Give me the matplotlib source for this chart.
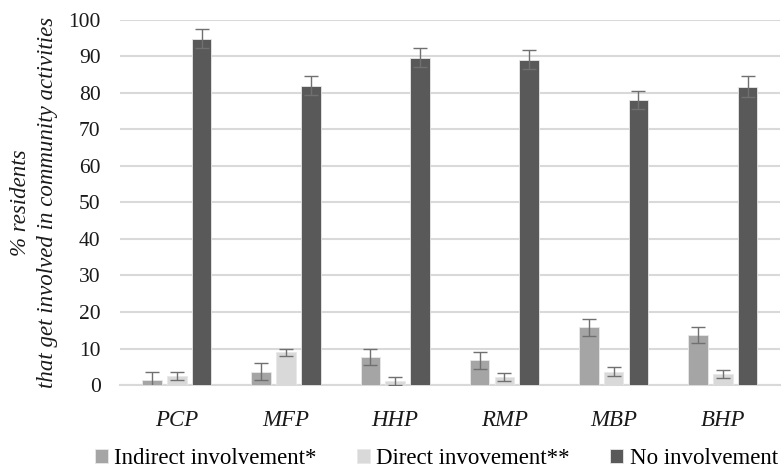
import numpy as np
import matplotlib
matplotlib.use("Agg")
import matplotlib.pyplot as plt

plt.rcParams['font.family'] = ['Liberation Serif', 'DejaVu Serif']

categories = ["PCP", "MFP", "HHP", "RMP", "MBP", "BHP"]
series_names = ["Indirect involvement*", "Direct invovement**", "No involvement"]

indirect = [1.3, 3.7, 7.8, 6.8, 15.8, 13.7]
indirect_err = [2.2, 2.3, 2.2, 2.3, 2.3, 2.3]
direct = [2.4, 9.0, 1.0, 2.2, 3.6, 3.0]
direct_err = [1.1, 1.0, 1.1, 1.1, 1.2, 1.2]
none = [94.8, 82.0, 89.6, 89.1, 78.0, 81.7]
none_err = [2.6, 2.6, 2.6, 2.6, 2.5, 2.8]

values = [indirect, direct, none]
errors = [indirect_err, direct_err, none_err]
colors = ["#a5a5a5", "#d9d9d9", "#595959"]

fig = plt.figure(figsize=(7.82, 4.73), dpi=100)
ax = fig.add_axes([0.1535, 0.186, 0.8435, 0.772])

x = np.arange(len(categories))
width = 0.18
step = 0.227
for i, (vals, errs, col, name) in enumerate(zip(values, errors, colors, series_names)):
    ax.bar(x + (i - 1) * step, vals, width, color=col, label=name,
           edgecolor="#e8e8e8", linewidth=0.6, zorder=3,
           yerr=errs, error_kw=dict(ecolor="#707070", elinewidth=1.0,
                                    capsize=5, capthick=1.0, zorder=4))

ax.set_ylim(0, 100)
ax.set_xlim(-0.52, len(categories) - 0.48)
ax.set_yticks(np.arange(0, 101, 10))
ax.yaxis.grid(True, color="#d9d9d9", linewidth=1.5, zorder=0)
ax.set_axisbelow(True)
for s in ["top", "right", "left"]:
    ax.spines[s].set_visible(False)
ax.spines["bottom"].set_color("#d9d9d9")
ax.spines["bottom"].set_linewidth(1.5)
ax.tick_params(axis="both", length=0, labelsize=15.5, colors="#1a1a1a")
ax.tick_params(axis="y", pad=14)
ax.tick_params(axis="x", pad=18)
ax.set_xticks(x)
ax.set_xticklabels(categories, fontstyle="italic", fontsize=16.5)

ax.set_ylabel("% residents\nthat get involved in community activities",
              fontstyle="italic", fontsize=16.5, color="#1a1a1a", labelpad=7,
              linespacing=1.4)

fig.legend(loc="lower center", bbox_to_anchor=(0.558, -0.035), ncol=3,
           frameon=False, fontsize=16.5, handlelength=0.55, handleheight=0.6,
           handletextpad=0.3, columnspacing=1.75)

fig.savefig("out.png", dpi=100)
